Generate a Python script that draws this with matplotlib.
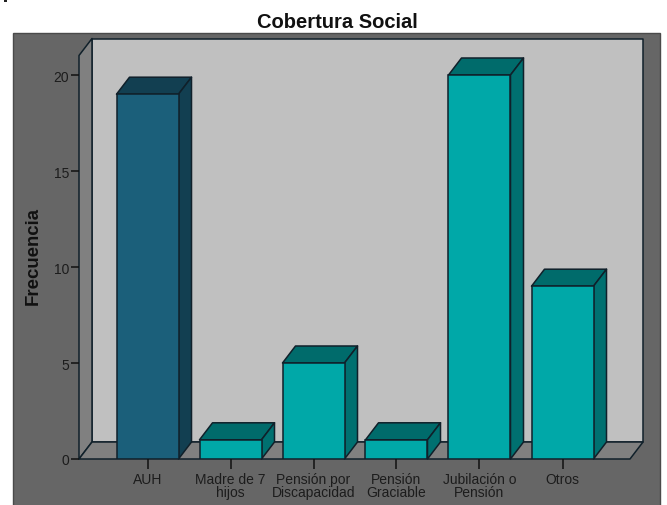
# Cobertura Social - bar chart with a fake 3D look
import matplotlib
matplotlib.use('Agg')
import matplotlib.pyplot as plt
from matplotlib.patches import Polygon, Rectangle

categorias = ['AUH', 'Madre de 7\nhijos', 'Pensión por\nDiscapacidad',
              'Pensión\nGraciable', 'Jubilación o\nPensión', 'Otros']
frecuencia = [19, 1, 5, 1, 20, 9]
colores = ['#1b5f7a', '#00a8a8', '#00a8a8', '#00a8a8', '#00a8a8', '#00a8a8']
colores_arriba = ['#123f51', '#006b6b', '#006b6b', '#006b6b', '#006b6b', '#006b6b']
colores_lado = ['#123f51', '#007070', '#007070', '#007070', '#007070', '#007070']
yticks = [0, 5, 10, 15, 20]

W, H = 667, 506
plt.rcParams['font.family'] = ['Liberation Sans', 'DejaVu Sans']
fig = plt.figure(figsize=(W / 100, H / 100), dpi=100, facecolor='white')

# panel gris de fondo
fig.add_artist(Rectangle((13 / W, -0.01), 647 / W, 1.01 - 34 / H, transform=fig.transFigure,
                         facecolor='#666666', edgecolor='#4a4a4a', linewidth=1, zorder=-5))
# marquita negra arriba a la izquierda
fig.add_artist(Rectangle((4 / W, 1 - 3 / H), 3 / W, 3 / H, transform=fig.transFigure,
                         facecolor='#222222', edgecolor='none', zorder=-5))

# ejes: 79..630 px en x, base en y=460 px
base_px = 460
top_px = 56.5
px_por_unidad = 19.2
ax = fig.add_axes([79 / W, (H - base_px) / H, (630 - 79) / W, (base_px - top_px) / H])
ax.set_xlim(-68.5 / 83, (630 - 147.5) / 83)
ymax = (base_px - top_px) / px_por_unidad
ax.set_ylim(0, ymax)
ax.patch.set_alpha(0)

# profundidad en unidades de datos
dx = 13 / 83
dy = 17 / px_por_unidad
x0, x1 = ax.get_xlim()
borde = '#10202a'

def poligono(puntos, color, z=2):
    ax.add_patch(Polygon(puntos, closed=True, facecolor=color, edgecolor=borde,
                         linewidth=1.1, zorder=z, clip_on=False, joinstyle='round'))

# pared del fondo, pared izquierda y piso
poligono([(x0 + dx, dy), (x1 + dx, dy), (x1 + dx, ymax + dy), (x0 + dx, ymax + dy)], '#c0c0c0', 1)
poligono([(x0, 0), (x0 + dx, dy), (x0 + dx, ymax + dy), (x0, ymax)], '#808080', 1)
poligono([(x0, 0), (x1, 0), (x1 + dx, dy), (x0 + dx, dy)], '#808080', 1)

# barras
ancho = 62 / 83
for i, v in enumerate(frecuencia):
    a = i - ancho / 2
    b = i + ancho / 2
    poligono([(a, v), (b, v), (b + dx, v + dy), (a + dx, v + dy)], colores_arriba[i], 3)
    poligono([(b, 0), (b + dx, dy), (b + dx, v + dy), (b, v)], colores_lado[i], 3)
    ax.bar(i, v, width=ancho, color=colores[i], edgecolor=borde, linewidth=1.1, zorder=4)

ax.set_xticks(range(len(categorias)))
ax.set_xticklabels(categorias, fontsize=10, color='#1c1c1c', linespacing=0.85)
ax.set_yticks(yticks)
ax.tick_params(axis='y', labelsize=10, labelcolor='#1c1c1c', length=6, width=1.1,
               color='#111111', pad=1)
ax.tick_params(axis='x', length=7, width=1.1, color='#111111', pad=2.5)
for lado in ['top', 'right', 'bottom', 'left']:
    ax.spines[lado].set_visible(False)

fig.text(33 / W, 1 - 256 / H, 'Frecuencia', rotation=90, ha='center', va='center',
         fontsize=13.4, fontweight='bold', color='#111111')
fig.text(337 / W, 1 - 22 / H, 'Cobertura Social', ha='center', va='center',
         fontsize=14.5, fontweight='bold', color='#111111')

fig.savefig('out.png', dpi=100)
